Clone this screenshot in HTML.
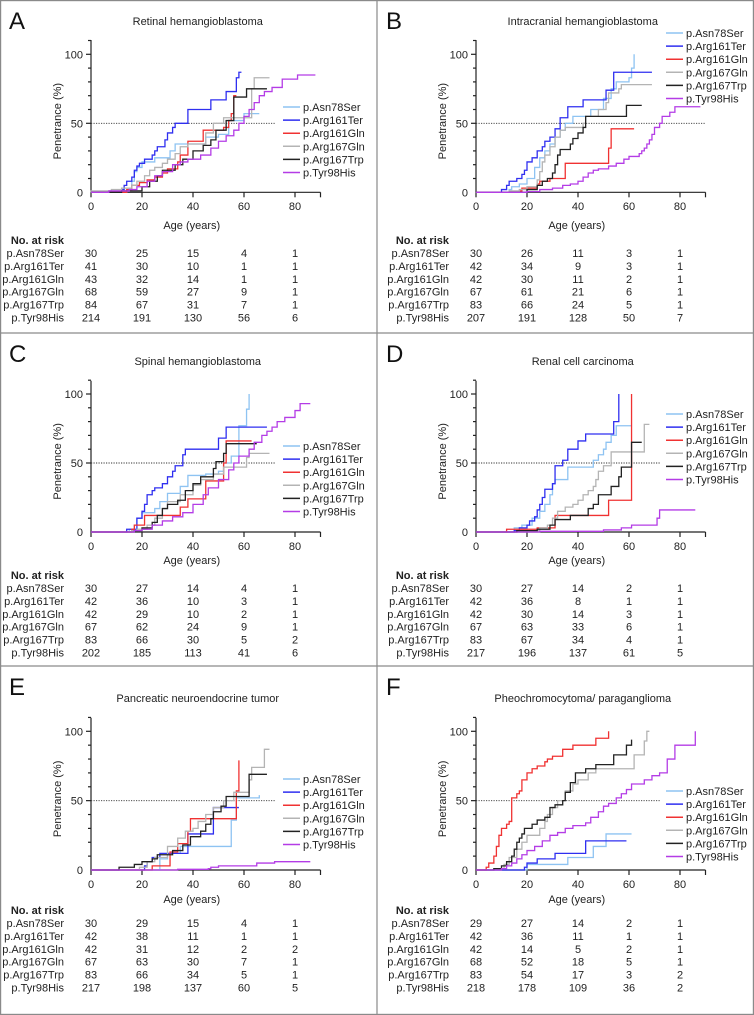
<!DOCTYPE html>
<html><head><meta charset="utf-8"><style>
html,body{margin:0;padding:0;background:#fff;}
svg{display:block;font-family:"Liberation Sans",sans-serif;}
</style></head><body>
<svg id="fig" width="754" height="1015" viewBox="0 0 754 1015"></svg>
<script>
const variants = ["p.Asn78Ser","p.Arg161Ter","p.Arg161Gln","p.Arg167Gln","p.Arg167Trp","p.Tyr98His"];
const colors = ["#8ec3f2","#2f2ff0","#f03232","#b4b4b4","#222222","#b43ce6"];
const xTicks = [0,20,40,60,80];
const yTicks = [0,50,100];
const titles = ["Retinal hemangioblastoma","Intracranial hemangioblastoma","Spinal hemangioblastoma","Renal cell carcinoma","Pancreatic neuroendocrine tumor","Pheochromocytoma/ paraganglioma"];
const letters = ["A","B","C","D","E","F"];
// step data: [age, penetrance%] pairs, last pair = end of follow-up
const A_curves = [
 [[14,2],[16,8],[17,15],[18,18],[20,22],[25,25],[31,30],[33,35],[45,40],[50,42],[54,52],[60,57],[66,57]],
 [[12,2],[13,5],[14,8],[16,11],[17,16],[18,19],[19,21],[21,24],[24,27],[25,30],[26,33],[29,38],[30,43],[32,47],[33,50],[38,60],[47,67],[53,73],[57,83],[58,87],[59,87]],
 [[14,2],[16,5],[19,7],[22,9],[25,11],[28,14],[30,17],[34,22],[35,27],[38,37],[44,45],[52,47],[54,52],[55,57],[56,70],[57,70]],
 [[0,1],[8,2],[12,3],[16,5],[18,8],[21,12],[23,16],[25,18],[28,21],[30,24],[33,28],[35,33],[38,35],[45,43],[48,50],[52,54],[62,54],[63,75],[64,83],[70,83]],
 [[12,1],[20,4],[23,8],[26,12],[28,16],[33,20],[36,24],[40,30],[44,34],[47,38],[49,45],[53,52],[56,69],[61,75],[69,75]],
 [[7,1],[15,2],[18,4],[22,8],[25,12],[28,15],[32,20],[35,22],[38,24],[43,27],[47,32],[50,37],[53,41],[56,45],[58,50],[60,55],[62,60],[64,65],[66,70],[68,73],[71,76],[75,82],[81,85],[88,85]]];
const B_curves = [
 [[13,2],[14,4],[17,6],[20,10],[23,18],[25,25],[27,30],[29,35],[31,40],[33,45],[35,50],[38,55],[45,60],[50,68],[53,75],[55,80],[60,83],[61,90],[62,100],[62,100]],
 [[10,2],[12,5],[13,8],[16,10],[18,13],[19,16],[20,22],[22,25],[24,30],[26,33],[27,37],[29,40],[31,46],[33,54],[36,62],[42,67],[51,74],[54,87],[69,87]],
 [[17,1],[18,3],[24,6],[25,8],[29,10],[35,21],[52,32],[53,46],[62,46]],
 [[13,1],[17,2],[20,4],[24,9],[25,15],[26,22],[27,27],[29,33],[31,40],[33,45],[35,47],[42,50],[43,55],[48,60],[51,65],[52,72],[56,75],[57,78],[69,78]],
 [[20,2],[24,5],[26,8],[28,10],[30,14],[31,20],[32,27],[33,31],[37,35],[38,39],[40,43],[42,47],[43,55],[59,63],[65,63]],
 [[20,0.5],[25,2],[30,3],[34,5],[37,6],[40,8],[42,11],[44,14],[46,16],[48,17],[52,19],[55,21],[58,24],[60,26],[64,28],[65,30],[66,32],[67,35],[68,38],[69,42],[70,47],[72,50],[73,55],[76,58],[78,62],[88,62]]];
const C_curves = [
 [[15,2],[17,5],[18,10],[20,14],[25,17],[27,22],[30,28],[35,33],[38,41],[45,42],[50,44],[52,50],[55,55],[58,77],[61,89],[62,100],[62,100]],
 [[14,2],[18,10],[20,15],[21,20],[22,27],[24,30],[25,32],[28,35],[30,40],[32,44],[33,48],[36,56],[37,60],[50,68],[53,76],[69,76]],
 [[16,2],[17,5],[21,12],[35,18],[38,24],[45,37],[52,50],[53,66],[63,66]],
 [[16,1],[18,2],[22,5],[25,10],[28,17],[30,22],[35,27],[40,34],[43,38],[48,42],[52,47],[61,54],[62,57],[70,57]],
 [[17,1],[20,3],[24,7],[26,12],[28,17],[30,20],[34,23],[37,30],[40,35],[43,40],[48,46],[49,51],[52,57],[53,64],[65,64]],
 [[17,1],[20,2],[24,5],[28,8],[32,11],[36,14],[40,20],[44,27],[46,32],[50,38],[54,45],[56,50],[58,55],[62,60],[64,65],[67,70],[69,73],[71,76],[73,80],[76,83],[80,88],[82,93],[86,93]]];
const D_curves = [
 [[15,3],[18,5],[22,10],[25,15],[27,20],[29,27],[30,35],[31,38],[36,47],[46,52],[48,56],[50,60],[51,65],[53,70],[55,77],[61,77]],
 [[15,1],[17,3],[20,5],[21,8],[23,11],[24,16],[25,20],[26,25],[27,31],[30,35],[31,48],[34,52],[36,60],[40,66],[43,71],[54,80],[56,100],[56,100]],
 [[12,2],[24,3],[31,12],[52,23],[61,100],[61,100]],
 [[20,1],[25,3],[28,5],[30,10],[32,15],[35,18],[38,20],[40,23],[42,27],[44,30],[46,33],[47,38],[48,44],[50,48],[53,58],[66,78],[68,78]],
 [[16,1],[24,2],[29,5],[31,9],[37,12],[44,17],[46,20],[48,27],[53,33],[56,40],[57,47],[61,65],[65,65]],
 [[25,0.5],[50,1.5],[57,3],[61,5],[71,10],[72,16],[86,16]]];
const E_curves = [
 [[27,8],[30,12],[35,17],[55,36],[57,52],[66,54]],
 [[21,3],[22,6],[24,9],[27,12],[38,26],[48,45],[58,45]],
 [[24,3],[31,13],[34,19],[38,28],[39,37],[57,57],[58,79],[58,79]],
 [[19,2],[22,6],[25,9],[30,17],[34,23],[37,28],[40,30],[42,35],[45,40],[48,45],[52,50],[56,56],[62,65],[63,74],[68,87],[70,87]],
 [[11,2],[17,4],[20,6],[24,8],[26,11],[32,14],[36,18],[39,24],[43,28],[45,33],[47,37],[48,42],[51,46],[53,53],[62,69],[69,69]],
 [[34,0.5],[46,1],[47,2],[50,3],[65,5],[72,6],[86,6]]];
const F_curves = [
 [[20,4],[36,9],[46,17],[51,26],[61,26]],
 [[19,2],[20,5],[24,8],[31,12],[43,21],[59,21]],
 [[4,2],[5,5],[7,10],[8,17],[9,25],[10,30],[12,33],[13,35],[14,52],[16,55],[17,57],[18,65],[20,70],[22,73],[24,75],[27,78],[28,80],[30,82],[34,87],[38,90],[47,95],[52,100],[52,100]],
 [[7,1],[11,4],[13,9],[16,15],[18,20],[20,25],[25,30],[27,35],[28,40],[30,45],[32,50],[35,57],[38,62],[40,65],[44,70],[47,73],[62,83],[66,93],[67,100],[68,100]],
 [[7,1],[10,3],[12,6],[14,10],[15,15],[16,20],[17,23],[18,26],[19,30],[22,33],[24,36],[27,38],[29,45],[31,47],[34,50],[35,56],[37,63],[39,70],[43,73],[47,76],[54,83],[59,90],[61,94],[61,94]],
 [[10,1],[12,3],[14,5],[16,8],[18,11],[20,14],[23,17],[26,21],[29,25],[32,27],[35,30],[38,32],[43,34],[45,38],[48,42],[50,46],[52,48],[55,52],[57,55],[59,58],[61,62],[66,65],[69,68],[72,70],[75,80],[78,90],[86,100],[86,100]]];
const A_risk = [[30,25,15,4,1],[41,30,10,1,1],[43,32,14,1,1],[68,59,27,9,1],[84,67,31,7,1],[214,191,130,56,6]];
const B_risk = [[30,26,11,3,1],[42,34,9,3,1],[42,30,11,2,1],[67,61,21,6,1],[83,66,24,5,1],[207,191,128,50,7]];
const C_risk = [[30,27,14,4,1],[42,36,10,3,1],[42,29,10,2,1],[67,62,24,9,1],[83,66,30,5,2],[202,185,113,41,6]];
const D_risk = [[30,27,14,2,1],[42,36,8,1,1],[42,30,14,3,1],[67,63,33,6,1],[83,67,34,4,1],[217,196,137,61,5]];
const E_risk = [[30,29,15,4,1],[42,38,11,1,1],[42,31,12,2,2],[67,63,30,7,1],[83,66,34,5,1],[217,198,137,60,5]];
const F_risk = [[29,27,14,2,1],[42,36,11,1,1],[42,14,5,2,1],[68,52,18,5,1],[83,54,17,3,2],[218,178,109,36,2]];

const curves=[A_curves,B_curves,C_curves,D_curves,E_curves,F_curves];
const risks=[A_risk,B_risk,C_risk,D_risk,E_risk,F_risk];
// layout (not data)
const L=[
 {px:0,py:0,x0:91,y0:192.3,y100:54.3,top:40,tY:21,legX:283,legY:107,dashEnd:72.5,tickY:206,axY:225,tabY:240},
 {px:377,py:0,x0:476,y0:192.3,y100:54.3,top:40,tY:21,legX:666,legY:33,dashEnd:90,tickY:206,axY:225,tabY:240},
 {px:0,py:333,x0:91,y0:532,y100:394,top:380.7,tY:361,legX:283,legY:446,dashEnd:72.5,tickY:546,axY:560,tabY:575},
 {px:377,py:333,x0:476,y0:532,y100:394,top:380.7,tY:361,legX:666,legY:414,dashEnd:72.5,tickY:546,axY:560,tabY:575},
 {px:0,py:666,x0:91,y0:870,y100:731.3,top:717.7,tY:698,legX:283,legY:779,dashEnd:72.5,tickY:884,axY:899,tabY:910},
 {px:377,py:666,x0:476,y0:870,y100:731.3,top:717.7,tY:698,legX:666,legY:791,dashEnd:72.5,tickY:884,axY:899,tabY:910}];
const NS="http://www.w3.org/2000/svg";
const svg=document.getElementById('fig');
function mk(tag,attrs,parent,text){const e=document.createElementNS(NS,tag);for(const k in attrs)e.setAttribute(k,attrs[k]);if(text!==undefined)e.textContent=text;(parent||svg).appendChild(e);return e;}
// frame
const fr=mk('g',{stroke:'#8a8a8a','stroke-width':1.2,fill:'none'});


mk('rect',{x:0.6,y:0.6,width:752.8,height:1013.8},fr);
mk('line',{x1:377,y1:0,x2:377,y2:1015},fr);
mk('line',{x1:0,y1:333,x2:754,y2:333},fr);
mk('line',{x1:0,y1:666,x2:754,y2:666},fr);

L.forEach((p,i)=>{
 const g=mk('g',{});
 
 
 const sx=a=>p.x0+a*2.55;
 const sy=v=>p.y0-(p.y0-p.y100)*v/100;
 const xEnd=sx(90);
 const lt=mk('text',{x:p.px+9,y:p.py+29,'font-size':24,fill:'#111'},g,letters[i]);
 
 
 const tt=mk('text',{x:(p.x0+xEnd)/2-8,y:p.tY+4,'font-size':11,'text-anchor':'middle',fill:'#222'},g,titles[i]);
 
 
 // axes
 const ax=mk('g',{stroke:'#222','stroke-width':1.2,fill:'none'},g);
 
 
 mk('line',{x1:p.x0,y1:p.top,x2:p.x0,y2:p.y0},ax);
 mk('line',{x1:p.x0,y1:p.y0,x2:xEnd,y2:p.y0},ax);
 for(let v=10;v<=110;v+=10){mk('line',{x1:p.x0-(v%50?3:5),y1:sy(v),x2:p.x0,y2:sy(v)},ax);}
 xTicks.forEach(t=>mk('line',{x1:sx(t),y1:p.y0,x2:sx(t),y2:p.y0+5},ax));
 mk('line',{x1:xEnd,y1:p.y0,x2:xEnd,y2:p.y0+5},ax);
 xTicks.forEach(t=>{const e=mk('text',{x:sx(t),y:p.tickY+4,'font-size':11,'text-anchor':'middle',fill:'#222'},g,t);
  
  });
 yTicks.forEach(t=>{const e=mk('text',{x:p.x0-8,y:sy(t)+4,'font-size':11,'text-anchor':'end',fill:'#222'},g,t);
  
  });
 const xl=mk('text',{x:(p.x0+xEnd)/2-14,y:p.axY+4,'font-size':11,'text-anchor':'middle',fill:'#222'},g,'Age (years)');
 
 
 const ycy=(p.top+p.y0)/2+5;
 const yl=mk('text',{x:p.x0-30,y:ycy,'font-size':11,'text-anchor':'middle',fill:'#222',transform:`rotate(-90 ${p.x0-30} ${ycy})`},g,'Penetrance (%)');
 
 
 const dl=mk('line',{x1:p.x0,y1:sy(50),x2:sx(p.dashEnd),y2:sy(50),stroke:'#333','stroke-width':0.9,'stroke-dasharray':'1.2 1.3'},g);
 
 
 // curves
 curves[i].forEach((c,k)=>{
  let d=`M${sx(0)},${sy(0)}`;let prev=0;
  c.forEach((pt,j)=>{d+=` H${sx(pt[0])}`; if(j<c.length-1||pt[1]!==prev) d+=` V${sy(pt[1])}`; prev=pt[1];});
  const e=mk('path',{d:d,fill:'none',stroke:colors[k],'stroke-width':1.3},g);
  
  
 });
 // legend
 variants.forEach((v,k)=>{
  const y=p.legY+k*13.1;
  const lg=mk('g',{},g);
  
  
  mk('line',{x1:p.legX,y1:y,x2:p.legX+17,y2:y,stroke:colors[k],'stroke-width':1.5},lg);
  mk('text',{x:p.legX+20,y:y+4,'font-size':11,fill:'#222'},lg,v);
 });
 // table
 const tb=mk('g',{'font-size':11,fill:'#222'},g);
 
 
 mk('text',{x:p.x0-27,y:p.tabY+4,'text-anchor':'end','font-weight':'bold'},tb,'No. at risk');
 risks[i].forEach((row,k)=>{
  const y=p.tabY+13+k*12.9+4;
  mk('text',{x:p.x0-27,y:y,'text-anchor':'end'},tb,variants[k]);
  row.forEach((n,j)=>mk('text',{x:sx(xTicks[j]),y:y,'text-anchor':'middle'},tb,n));
 });
});
</script>
</body></html>
